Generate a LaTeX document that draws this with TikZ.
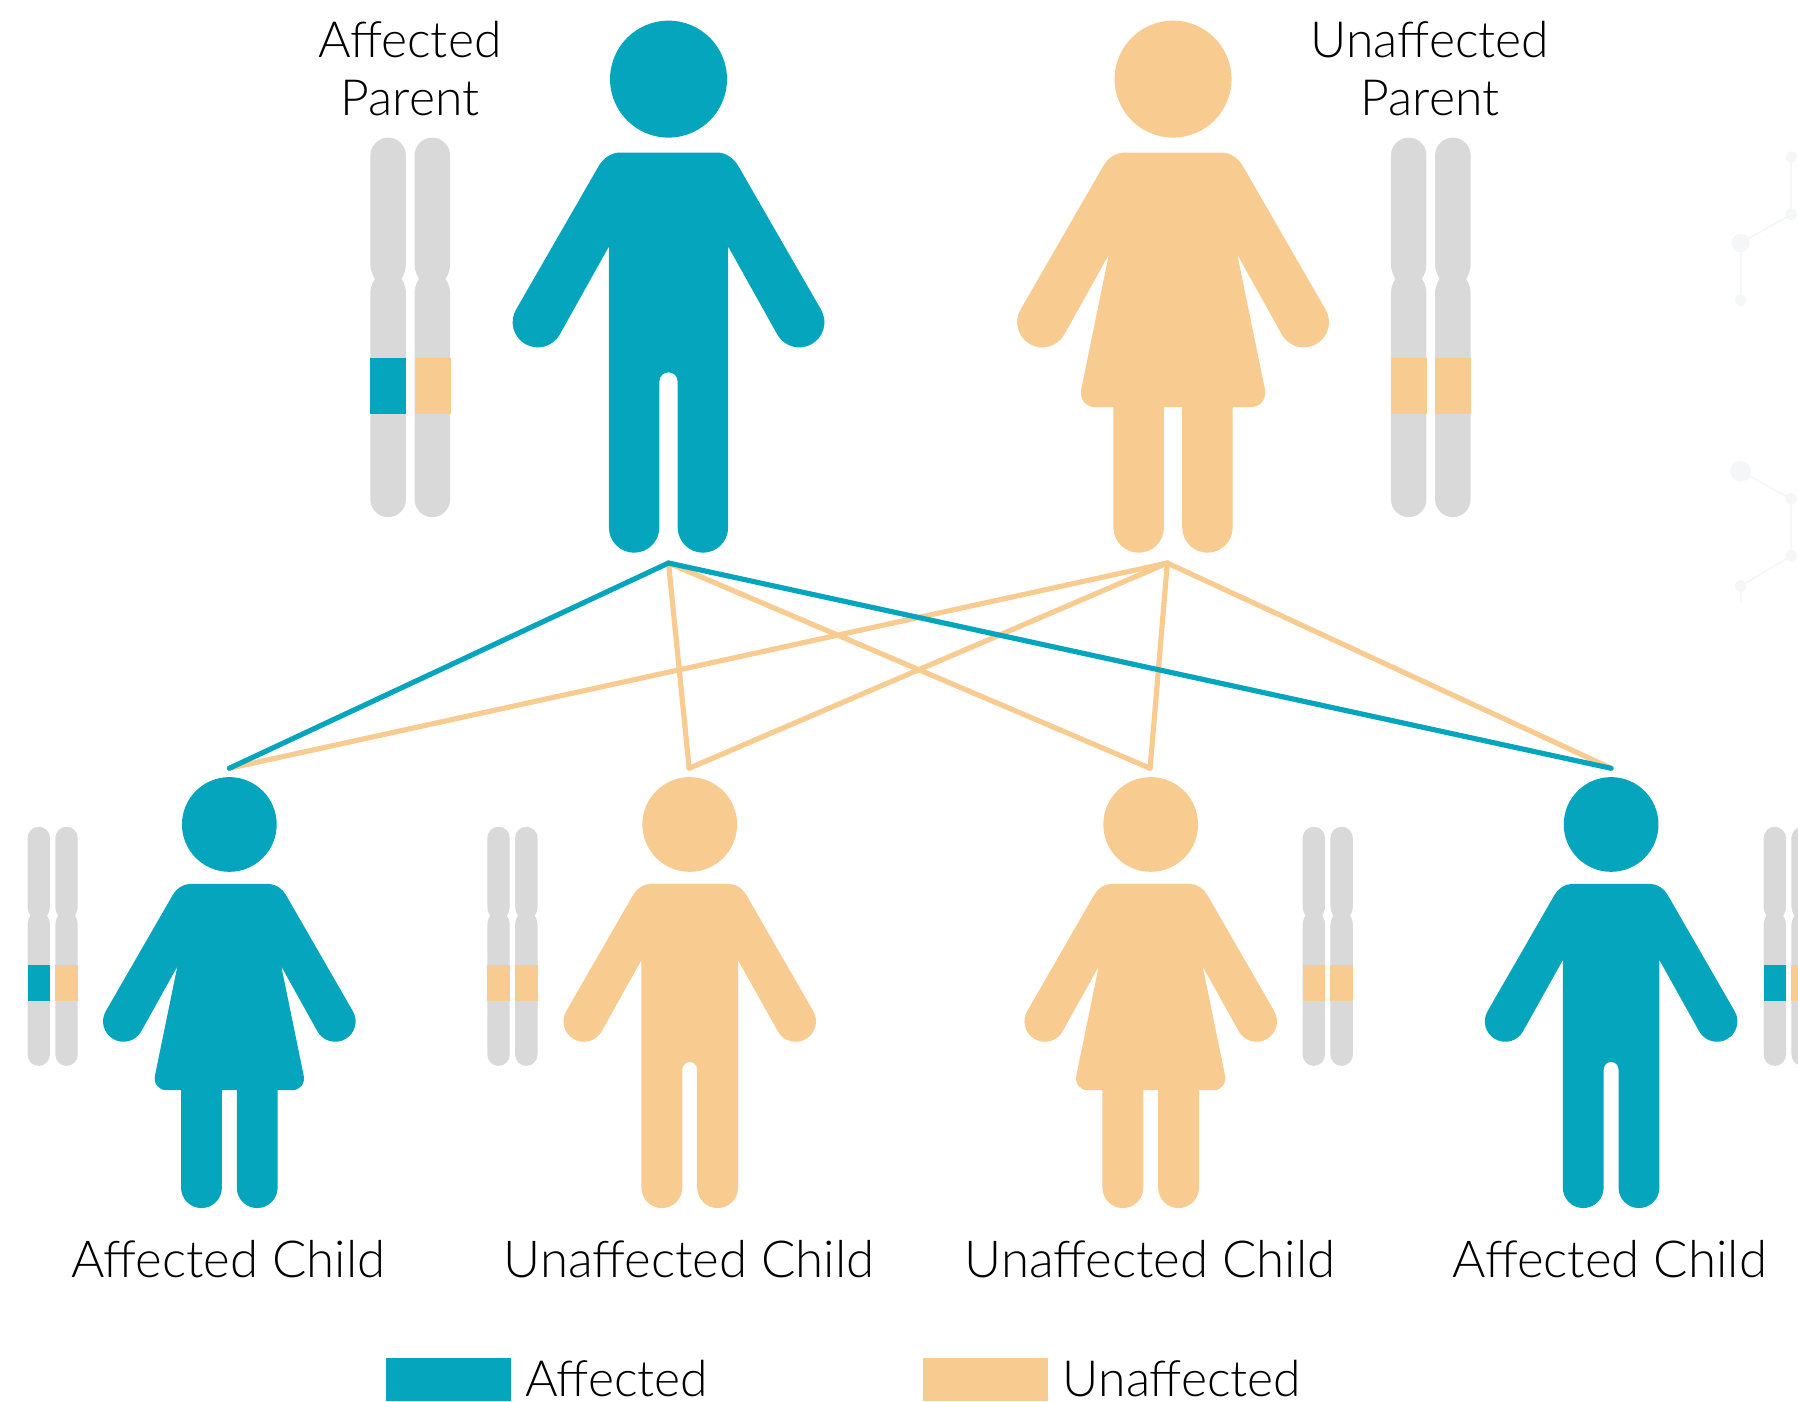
\documentclass[tikz,border=0pt]{standalone}
\usepackage{fontspec}
\setmainfont{Lato}[UprightFont=* Light]
\definecolor{teal}{HTML}{05A5BD}
\definecolor{tan}{HTML}{F8CB91}
\definecolor{chromo}{HTML}{D9D9D9}
\definecolor{faint}{HTML}{F5F6F8}
\tikzset{
  lbl/.style={font=\fontsize{44.5}{51}\selectfont,text=black,inner sep=0pt,outer sep=0pt},
  lblsmall/.style={font=\fontsize{43.5}{51}\selectfont,text=black,inner sep=0pt,outer sep=0pt},
  link/.style={line width=4.5pt,line cap=round,line join=round},
}
\newcommand{\malefig}[4]{% x, y, scale, colour
\begin{scope}[shift={(#1,#2)},x=#3pt,y=-#3pt]
\fill[#4] (0,0) circle [x radius=51,y radius=51];
\fill[#4] (-42,64) -- (42,64) .. controls (50,64) and (57,69) .. (61,76) -- (133,201)
 .. controls (139.1,211.5) and (135.5,224.9) .. (125,231) .. controls (114.5,237.1) and (101.1,233.5) .. (95,223)
 -- (52,146) -- (52,391)
 .. controls (52,403.15) and (42.15,413) .. (30,413) .. controls (17.85,413) and (8,403.15) .. (8,391) -- (8,264)
 .. controls (8,253) and (-8,253) .. (-8,264) -- (-8,391)
 .. controls (-8,403.15) and (-17.85,413) .. (-30,413) .. controls (-42.15,413) and (-52,403.15) .. (-52,391)
 -- (-52,146) -- (-95,223)
 .. controls (-101.1,233.5) and (-114.5,237.1) .. (-125,231) .. controls (-135.5,224.9) and (-139.1,211.5) .. (-133,201)
 -- (-61,76) .. controls (-57,69) and (-50,64) .. (-42,64) -- cycle;
\end{scope}}
\newcommand{\femalefig}[4]{%
\begin{scope}[shift={(#1,#2)},x=#3pt,y=-#3pt]
\fill[#4] (0,0) circle [x radius=51,y radius=51];
\fill[#4] (-42,64) -- (42,64) .. controls (50,64) and (57,69) .. (61,76) -- (133,201)
 .. controls (139.1,211.5) and (135.5,224.9) .. (125,231) .. controls (114.5,237.1) and (101.1,233.5) .. (95,223)
 -- (56,153) -- (80,270)
 .. controls (82,279) and (76,286) .. (68,286) -- (52,286) -- (52,391)
 .. controls (52,403.15) and (42.15,413) .. (30,413) .. controls (17.85,413) and (8,403.15) .. (8,391) -- (8,286) -- (-8,286) -- (-8,391)
 .. controls (-8,403.15) and (-17.85,413) .. (-30,413) .. controls (-42.15,413) and (-52,403.15) .. (-52,391)
 -- (-52,286) -- (-68,286)
 .. controls (-76,286) and (-82,279) .. (-80,270) -- (-56,153) -- (-95,223)
 .. controls (-101.1,233.5) and (-114.5,237.1) .. (-125,231) .. controls (-135.5,224.9) and (-139.1,211.5) .. (-133,201)
 -- (-61,76) .. controls (-57,69) and (-50,64) .. (-42,64) -- cycle;
\end{scope}}
\newcommand{\onechromo}[1]{% band colour; origin at top-left, width 31, height 331
\fill[chromo] (15.5,0) .. controls (24,0) and (31,7) .. (31,15.5) -- (31,110)
 .. controls (31,117) and (28,123) .. (24,127) -- (7,127) .. controls (3,123) and (0,117) .. (0,110)
 -- (0,15.5) .. controls (0,7) and (7,0) .. (15.5,0) -- cycle;
\fill[chromo] (7,120) -- (24,120) .. controls (28,123) and (31,129) .. (31,136) -- (31,315.5)
 .. controls (31,324) and (24,331) .. (15.5,331) .. controls (7,331) and (0,324) .. (0,315.5)
 -- (0,136) .. controls (0,129) and (3,123) .. (7,120) -- cycle;
\fill[#1] (0,192) rectangle (31.4,241);
}
\newcommand{\chromopair}[5]{% x, y, scale, colour, colour
\begin{scope}[shift={(#1,#2)},x=#3pt,y=#3pt]
\begin{scope}[y=-#3pt]\onechromo{#4}\end{scope}
\begin{scope}[shift={(38.5,0)},y=-#3pt]\onechromo{#5}\end{scope}
\end{scope}}
\begin{document}
\begin{tikzpicture}[x=1pt,y=-1pt]
\useasboundingbox (0,0) rectangle (1568,1222);
\clip (0,0) rectangle (1568,1222);
% faint background molecules
\begin{scope}[faint]
\draw[line width=1.5pt] (1562,137) -- (1562,187) -- (1518,212) -- (1518,262);
\draw[line width=1.5pt] (1518,411) -- (1562,435) -- (1562,485) -- (1518,511) -- (1518,525);
\fill (1562,137) circle [radius=5pt];
\fill (1562,187) circle [radius=5pt];
\fill (1518,212) circle [radius=8pt];
\fill (1518,262) circle [radius=5pt];
\fill (1518,411) circle [radius=9pt];
\fill (1562,435) circle [radius=5pt];
\fill (1562,485) circle [radius=5pt];
\fill (1518,511) circle [radius=5pt];
\end{scope}
% parents
\malefig{583}{69}{1}{teal}
\femalefig{1023}{69}{1}{tan}
\chromopair{323}{120}{1}{teal}{tan}
\chromopair{1213}{120}{1}{tan}{tan}
% children
\femalefig{200}{719}{0.81}{teal}
\malefig{601.5}{719}{0.81}{tan}
\femalefig{1003.5}{719}{0.81}{tan}
\malefig{1405}{719}{0.81}{teal}
\chromopair{24}{721}{0.63}{teal}{tan}
\chromopair{425}{721}{0.63}{tan}{tan}
\chromopair{1136}{721}{0.63}{tan}{tan}
\chromopair{1538}{721}{0.63}{teal}{tan}
% connectors
\coordinate (pa) at (583,491);
\coordinate (pu) at (1018,491);
\coordinate (c1) at (200,670);
\coordinate (c2) at (601,670);
\coordinate (c3) at (1003,670);
\coordinate (c4) at (1405,670);
\draw[link,tan] (pa) -- (c2);
\draw[link,tan] (pa) -- (c3);
\draw[link,tan] (pu) -- (c1);
\draw[link,tan] (pu) -- (c2);
\draw[link,tan] (pu) -- (c3);
\draw[link,tan] (pu) -- (c4);
\draw[link,teal] (pa) -- (c1);
\draw[link,teal] (pa) -- (c4);
% labels
\node[lblsmall,anchor=base] (t1) at (357.5,50) {Affected};
\node[lblsmall,anchor=base] (t2) at (357.5,100.5) {Parent};
\node[lblsmall,anchor=base] (t3) at (1247,50) {Unaffected};
\node[lblsmall,anchor=base] (t4) at (1247,100.5) {Parent};
\node[lbl,anchor=base] (t5) at (199,1114) {Affected Child};
\node[lbl,anchor=base] (t6) at (601,1114) {Unaffected Child};
\node[lbl,anchor=base] (t7) at (1003,1114) {Unaffected Child};
\node[lbl,anchor=base] (t8) at (1404,1114) {Affected Child};
% legend
\fill[teal] (337,1184) rectangle (446,1222);
\fill[tan] (805,1184) rectangle (914,1222);
\node[lblsmall,anchor=base west] (l1) at (458,1218) {Affected};
\node[lblsmall,anchor=base west] (l2) at (927,1218) {Unaffected};
\end{tikzpicture}
\end{document}
